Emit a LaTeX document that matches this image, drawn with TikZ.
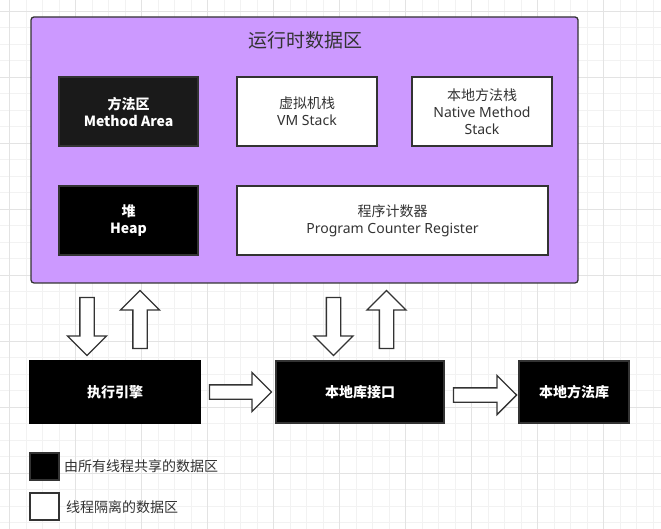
\documentclass[tikz,border=0pt]{standalone}
\usepackage{fontspec}
\setmainfont{Noto Sans}
\newfontfamily\cjk{Noto Sans CJK SC}
\usepackage{tikz}
\usetikzlibrary{shapes.arrows}
\definecolor{areapurple}{HTML}{CC99FF}
\definecolor{linegray}{HTML}{333333}
\definecolor{textgray}{HTML}{333333}
\definecolor{darkfill}{HTML}{1A1A1A}
\definecolor{gridminor}{HTML}{F2F2F2}
\definecolor{gridmajor}{HTML}{E3E3E3}
\tikzset{
	area/.style={draw=linegray, line width=1.3pt, inner sep=0pt, align=center,
		font=\fontsize{14}{17}\selectfont},
	shared/.style={area, fill=black, text=white, font=\fontsize{14}{17}\selectfont\cjk\bfseries},
	private/.style={area, fill=white, text=textgray},
	blockarrow/.style={single arrow, draw=linegray, fill=white, line width=1.3pt,
		inner xsep=0pt, inner ysep=6.5pt, text height=0pt, text depth=0pt,
		single arrow head extend=12.5pt, single arrow tip angle=90},
}

\begin{document}
\begin{tikzpicture}[x=1pt,y=-1pt]
	\useasboundingbox (0,0) rectangle (661,529);
	\fill[white] (0,0) rectangle (661,529);
	% background grid
	\foreach \i in {0,...,41} {
		\draw[gridminor, line width=0.8pt] ({-6.8+16.5*\i},0) -- ++(0,529);
		\draw[gridminor, line width=0.8pt] (0,{-5.2+16.5*\i}) -- ++(661,0);
	}
	\foreach \i in {0,...,10} {
		\draw[gridmajor, line width=0.8pt] ({9.7+66*\i},0) -- ++(0,529);
		\draw[gridmajor, line width=0.8pt] (0,{11.3+66*\i}) -- ++(661,0);
	}

	\node[area, fill=areapurple, rounded corners=3pt, minimum width=547pt, minimum height=266pt] (rtda) at (304.5,150) {};
	\node[text=textgray, font=\fontsize{19}{22}\selectfont\cjk] (title) at (305,40) {运行时数据区};
	\node[shared, fill=darkfill, minimum width=139pt, minimum height=69pt] (methodarea) at (128.5,111.5) {方法区\\Method Area};
	\node[private, minimum width=140pt, minimum height=69pt] (vmstack) at (307,111.5) {{\cjk 虚拟机栈}\\VM Stack};
	\node[private, minimum width=140pt, minimum height=69pt] (nativestack) at (482,111.5) {{\cjk 本地方法栈}\\Native Method\\Stack};
	\node[shared, minimum width=139pt, minimum height=69pt] (heap) at (128.5,220.5) {堆\\Heap};
	\node[private, minimum width=311pt, minimum height=69pt] (pcreg) at (392.5,220.5) {{\cjk 程序计数器}\\Program Counter Register};

	\node[shared, draw=black, minimum width=170pt, minimum height=62pt] (engine) at (115,392) {执行引擎};
	\node[shared, minimum width=168pt, minimum height=62pt] (nativeif) at (360,392) {本地库接口};
	\node[shared, minimum width=110pt, minimum height=62pt] (nativelib) at (574,392) {本地方法库};

	\node[blockarrow, rotate=-90, minimum height=58pt] (engine in) at (87,323) {};
	\node[blockarrow, rotate=90, minimum height=58pt] (engine out) at (140,323) {};
	\node[blockarrow, rotate=-90, minimum height=58pt] (nativeif in) at (333.5,323) {};
	\node[blockarrow, rotate=90, minimum height=58pt] (nativeif out) at (386.5,323) {};
	\node[blockarrow, minimum height=62pt] (engine to if) at (237,392) {};
	\node[blockarrow, minimum height=63pt] (if to lib) at (481.5,395) {};

	% legend
	\node[shared, minimum width=29pt, minimum height=27pt] (key shared) at (44.5,466.5) {};
	\node[private, minimum width=29pt, minimum height=27pt] (key private) at (44.5,506.5) {};
	\node[anchor=west, text=textgray, inner sep=0pt, font=\fontsize{14}{17}\selectfont\cjk] (key shared text) at (64,466.5) {由所有线程共享的数据区};
	\node[anchor=west, text=textgray, inner sep=0pt, font=\fontsize{14}{17}\selectfont\cjk] (key private text) at (66,507) {线程隔离的数据区};
\end{tikzpicture}
\end{document}
